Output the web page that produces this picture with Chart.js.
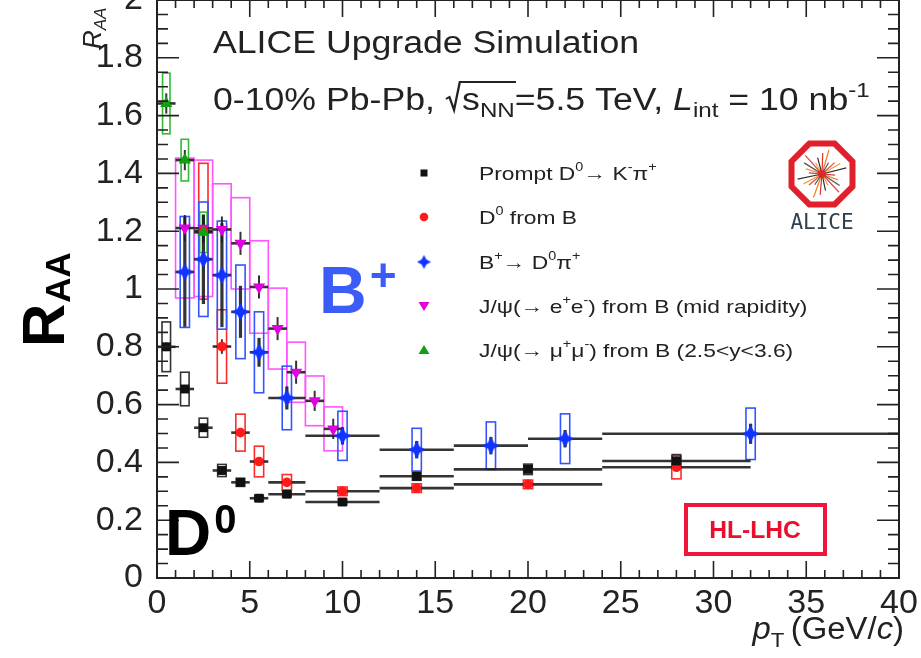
<!DOCTYPE html>
<html><head><meta charset="utf-8">
<script src="https://cdn.jsdelivr.net/npm/chart.js@4.4.0/dist/chart.umd.min.js"></script>
<style>html,body{margin:0;padding:0;background:#fff;overflow:hidden}#wrap{width:921px;height:658px;position:relative}</style>
</head><body><div id="wrap"><canvas id="c" width="921" height="658"></canvas></div>
<script>
// ---------- data ----------
const promptPt   = [0.5, 1.5, 2.5, 3.5, 4.5, 5.5, 7, 10, 14, 20, 28];
const promptLo   = [0, 1, 2, 3, 4, 5, 6, 8, 12, 16, 24];
const promptHi   = [1, 2, 3, 4, 5, 6, 8, 12, 16, 24, 32];
const promptRaa  = [0.80, 0.654, 0.52, 0.372, 0.331, 0.276, 0.29, 0.263, 0.352, 0.376, 0.405];
const promptStat = [0.015, 0.012, 0.01, 0.01, 0.01, 0.008, 0.008, 0.008, 0.01, 0.012, 0.015];
const promptSys  = [0.086, 0.058, 0.033, 0.021, 0.014, 0.01, 0.01, 0.01, 0.014, 0.018, 0.022];

const fromBPt   = [2.5, 3.5, 4.5, 5.5, 7, 10, 14, 20, 28];
const fromBLo   = [2, 3, 4, 5, 6, 8, 12, 16, 24];
const fromBHi   = [3, 4, 5, 6, 8, 12, 16, 24, 32];
const fromBRaa  = [1.20, 0.801, 0.503, 0.403, 0.331, 0.300, 0.311, 0.324, 0.383];
const fromBStat = [0.04, 0.025, 0.015, 0.012, 0.01, 0.008, 0.008, 0.008, 0.01];
const fromBSys  = [0.235, 0.127, 0.064, 0.053, 0.027, 0.015, 0.015, 0.015, 0.04];

const bplusPt   = [1.5, 2.5, 3.5, 4.5, 5.5, 7, 10, 14, 18, 22, 32];
const bplusLo   = [1, 2, 3, 4, 5, 6, 8, 12, 16, 20, 24];
const bplusHi   = [2, 3, 4, 5, 6, 8, 12, 16, 20, 24, 40];
const bplusRaa  = [1.059, 1.103, 1.048, 0.921, 0.781, 0.623, 0.492, 0.444, 0.458, 0.482, 0.499];
const bplusStat = [0.19, 0.155, 0.18, 0.09, 0.05, 0.04, 0.03, 0.03, 0.03, 0.03, 0.035];
const bplusSys  = [0.192, 0.198, 0.187, 0.162, 0.14, 0.11, 0.085, 0.074, 0.082, 0.086, 0.089];

const jpsiEePt   = [1.5, 2.5, 3.5, 4.5, 5.5, 6.5, 7.5, 8.5, 9.5];
const jpsiEeLo   = [1, 2, 3, 4, 5, 6, 7, 8, 9];
const jpsiEeHi   = [2, 3, 4, 5, 6, 7, 8, 9, 10];
const jpsiEeRaa  = [1.211, 1.21, 1.206, 1.158, 1.007, 0.863, 0.712, 0.613, 0.516];
const jpsiEeStat = [0.045, 0.045, 0.045, 0.04, 0.04, 0.04, 0.04, 0.035, 0.035];
const jpsiEeSys  = [0.242, 0.236, 0.158, 0.158, 0.16, 0.14, 0.104, 0.086, 0.076];

const jpsiMmPt   = [0.5, 1.5, 2.5];
const jpsiMmLo   = [0, 1, 2];
const jpsiMmHi   = [1, 2, 3];
const jpsiMmRaa  = [1.642, 1.446, 1.196];
const jpsiMmStat = [0.035, 0.035, 0.035];
const jpsiMmSys  = [0.105, 0.072, 0.07];

const xTickLabels = ['0','5','10','15','20','25','30','35','40'];
const yTickLabels = ['0','0.2','0.4','0.6','0.8','1','1.2','1.4','1.6','1.8','2'];

const legendLabels = [
  [['Prompt D',0],['0',1],['\u2192 K',0],['-',1],['\u03c0',0],['+',1]],
  [['D',0],['0',1],[' from B',0]],
  [['B',0],['+',1],['\u2192 D',0],['0',1],['\u03c0',0],['+',1]],
  [['J/\u03c8(\u2192 e',0],['+',1],['e',0],['-',1],[') from B (mid rapidity)',0]],
  [['J/\u03c8(\u2192 \u03bc',0],['+',1],['\u03bc',0],['-',1],[') from B (2.5<y<3.6)',0]]
];

// ---------- styles ----------
const FAM = "'Liberation Sans', Arial, sans-serif";
const S = {
  prompt: {mk:'#111111', box:'#333333', hw:0.23},
  fromB:  {mk:'#ff1a1a', box:'#ff2a2a', hw:0.25},
  bplus:  {mk:'#1133ff', box:'#3355ff', hw:0.25},
  jee:    {mk:'#e000e0', box:'#ff55ff', hw:0.5},
  jmm:    {mk:'#10a010', box:'#33bb33', hw:0.2}
};
const series = [
  {key:'bplus',  pt:bplusPt,  lo:bplusLo,  hi:bplusHi,  v:bplusRaa,  st:bplusStat,  sy:bplusSys},
  {key:'prompt', pt:promptPt, lo:promptLo, hi:promptHi, v:promptRaa, st:promptStat, sy:promptSys},
  {key:'jmm',    pt:jpsiMmPt, lo:jpsiMmLo, hi:jpsiMmHi, v:jpsiMmRaa, st:jpsiMmStat, sy:jpsiMmSys},
  {key:'fromB',  pt:fromBPt,  lo:fromBLo,  hi:fromBHi,  v:fromBRaa,  st:fromBStat,  sy:fromBSys},
  {key:'jee',    pt:jpsiEePt, lo:jpsiEeLo, hi:jpsiEeHi, v:jpsiEeRaa, st:jpsiEeStat, sy:jpsiEeSys}
];

// blue star marker
function starCanvas(size){
  const cv=document.createElement('canvas'); cv.width=size; cv.height=size;
  const g=cv.getContext('2d'); const c=size/2, r=size/2-0.5, q=size*0.16;
  g.fillStyle=S.bplus.mk; g.beginPath();
  g.moveTo(c,c-r); g.lineTo(c+q,c-q); g.lineTo(c+r,c); g.lineTo(c+q,c+q);
  g.lineTo(c,c+r); g.lineTo(c-q,c+q); g.lineTo(c-r,c); g.lineTo(c-q,c-q); g.closePath(); g.fill();
  return cv;
}
const starBig = starCanvas(19), starSmall = starCanvas(15);

const pstyle = {
  prompt:{pointStyle:'rect', radius:6.3, rotation:0},
  fromB:{pointStyle:'circle', radius:4.8, rotation:0},
  bplus:{pointStyle:starBig, radius:9, rotation:0},
  jee:{pointStyle:'triangle', radius:7, rotation:180},
  jmm:{pointStyle:'triangle', radius:7, rotation:0}
};

const datasets = series.map(s => ({
  label:s.key,
  data:s.pt.map((p,i)=>({x:p,y:s.v[i]})),
  showLine:false,
  pointStyle:pstyle[s.key].pointStyle,
  pointRadius:pstyle[s.key].radius,
  pointRotation:pstyle[s.key].rotation,
  pointBackgroundColor:S[s.key].mk,
  pointBorderColor:S[s.key].mk,
  pointBorderWidth:0
}));

// ---------- helpers ----------
function seq(ctx,x,y,parts){
  for(const p of parts){ ctx.font=p[1]; ctx.fillText(p[0],x,y+(p[2]||0)); x+=ctx.measureText(p[0]).width+(p[3]||0); }
  return x;
}
function seqWidth(ctx,parts){ let w=0; for(const p of parts){ctx.font=p[1]; w+=ctx.measureText(p[0]).width+(p[3]||0);} return w; }
function seqScaled(ctx,x,y,parts,sx){ ctx.save(); ctx.translate(x,y); ctx.scale(sx,1); const e=seq(ctx,0,0,parts); ctx.restore(); return x+e*sx; }

function legendMarker(ctx,key,x,y){
  ctx.save(); ctx.fillStyle=S[key].mk;
  if(key==='prompt'){ ctx.fillRect(x-3.5,y-3.5,7,7); }
  else if(key==='fromB'){ ctx.beginPath(); ctx.arc(x,y,4.3,0,Math.PI*2); ctx.fill(); }
  else if(key==='bplus'){ ctx.drawImage(starSmall,x-7.5,y-7.5); }
  else if(key==='jee'){ ctx.beginPath(); ctx.moveTo(x-5.5,y-4); ctx.lineTo(x+5.5,y-4); ctx.lineTo(x,y+5); ctx.closePath(); ctx.fill(); }
  else { ctx.beginPath(); ctx.moveTo(x-5.5,y+4); ctx.lineTo(x+5.5,y+4); ctx.lineTo(x,y-5); ctx.closePath(); ctx.fill(); }
  ctx.restore();
}

const errPlugin = {
  id:'err',
  beforeDatasetsDraw(chart){
    const ctx=chart.ctx, X=chart.scales.x, Y=chart.scales.y;
    const px=v=>X.getPixelForValue(v), py=v=>Y.getPixelForValue(v);
    ctx.save();
    for(const s of series.slice().reverse()){
      ctx.strokeStyle=S[s.key].box; ctx.lineWidth=1.6;
      s.pt.forEach((p,i)=>{
        const x0=px(p-S[s.key].hw), x1=px(p+S[s.key].hw), y0=py(s.v[i]+s.sy[i]), y1=py(s.v[i]-s.sy[i]);
        ctx.strokeRect(x0,y0,x1-x0,y1-y0);
      });
    }
    ctx.strokeStyle='rgba(30,30,30,0.9)';
    for(const s of series.slice().reverse()){
      s.pt.forEach((p,i)=>{
        ctx.lineWidth=2.6;
        ctx.beginPath(); ctx.moveTo(px(s.lo[i]),py(s.v[i])); ctx.lineTo(px(s.hi[i]),py(s.v[i])); ctx.stroke();
        ctx.lineWidth = s.key==='bplus'?3.2:2;
        ctx.beginPath(); ctx.moveTo(px(p),py(s.v[i]-s.st[i])); ctx.lineTo(px(p),py(s.v[i]+s.st[i])); ctx.stroke();
      });
    }
    ctx.restore();
  },
  afterDraw(chart){
    const ctx=chart.ctx, X=chart.scales.x, Y=chart.scales.y, A=chart.chartArea;
    const px=v=>X.getPixelForValue(v), py=v=>Y.getPixelForValue(v);
    ctx.save();
    // frame
    ctx.strokeStyle='#222'; ctx.lineWidth=2;
    ctx.beginPath(); ctx.moveTo(A.left,A.top); ctx.lineTo(A.right,A.top); ctx.lineTo(A.right,A.bottom); ctx.stroke();
    // inward ticks
    ctx.lineWidth=1.6;
    for(let v=0; v<=40; v++){
      const L = v%5===0?17:8, x=px(v);
      ctx.beginPath(); ctx.moveTo(x,A.bottom); ctx.lineTo(x,A.bottom-L); ctx.moveTo(x,A.top); ctx.lineTo(x,A.top+L); ctx.stroke();
    }
    for(let k=0; k<=40; k++){
      const v=k*0.05, L = k%4===0?22:11, y=py(v);
      ctx.beginPath(); ctx.moveTo(A.left,y); ctx.lineTo(A.left+L,y); ctx.moveTo(A.right,y); ctx.lineTo(A.right-L,y); ctx.stroke();
    }
    ctx.fillStyle='#222'; ctx.textBaseline='alphabetic'; ctx.textAlign='left';
    // title lines
    const F='31px '+FAM, Fs='21px '+FAM, Fi='italic 31px '+FAM;
    seqScaled(ctx,213,53,[['ALICE Upgrade Simulation',F]],1.15);
    ctx.save(); ctx.translate(213,110); ctx.scale(1.15,1);
    let x=seq(ctx,0,0,[['0-10% Pb-Pb, ',F]]);
    ctx.strokeStyle='#222'; ctx.lineWidth=2;
    const sx=x+15, sw=seqWidth(ctx,[['s',F],['NN',Fs]]);
    ctx.beginPath(); ctx.moveTo(x+1,-11); ctx.lineTo(x+4,-13); ctx.lineTo(x+8,0); ctx.lineTo(x+13,-28); ctx.lineTo(sx+sw+1,-28); ctx.stroke();
    seq(ctx,sx,0,[['s',F],['NN',Fs,7],['=5.5 TeV, ',F],['L',Fi],['int',Fs,7],[' = 10 nb',F],['-1',Fs,-13]]);
    ctx.restore();
    // legend
    const rows=[173,217,262,306,350], keys=['prompt','fromB','bplus','jee','jmm'];
    const LF='19px '+FAM, LS='12px '+FAM;
    rows.forEach((ry,i)=>{
      legendMarker(ctx,keys[i],424,ry);
      ctx.fillStyle='#222';
      seqScaled(ctx,479,ry+7,legendLabels[i].map(p=>p[1]?[p[0],LS,-9]:[p[0],LF]),1.2);
    });
    // B+
    ctx.fillStyle='#3b5cf7';
    seq(ctx,319,313,[['B','bold 66px '+FAM,0,3],['+','bold 46px '+FAM,-22]]);
    // D0
    ctx.fillStyle='#000';
    seq(ctx,165,555,[['D','bold 64px '+FAM,0,3],['0','bold 40px '+FAM,-22]]);
    // HL-LHC
    ctx.strokeStyle='#f0163a'; ctx.lineWidth=4; ctx.strokeRect(686,505,139,49);
    ctx.fillStyle='#e8102e'; ctx.font='bold 23px '+FAM; ctx.textAlign='center';
    ctx.save(); ctx.translate(755,538); ctx.scale(1.07,1); ctx.fillText('HL-LHC',0,0); ctx.restore();
    ctx.textAlign='left';
    // ALICE logo
    const cx=822, cy=174, R=33;
    const ang=[5,20,33,47,62,78,95,110,124,140,152,168,185,198,212,228,240,255,272,286,300,318,330,346];
    const cols=['#e03030','#f08020','#505050','#e04848','#f0a040','#303030'];
    ang.forEach((a,i)=>{ const t=a*Math.PI/180, l=13+(i%4)*4;
      ctx.strokeStyle=cols[i%6]; ctx.lineWidth=1.2;
      ctx.beginPath(); ctx.moveTo(cx,cy); ctx.lineTo(cx+l*Math.cos(t),cy+l*Math.sin(t)); ctx.stroke(); });
    ctx.fillStyle='#e02828'; ctx.beginPath(); ctx.arc(cx,cy,4,0,Math.PI*2); ctx.fill();
    ctx.strokeStyle='#e0202a'; ctx.lineWidth=6; ctx.beginPath();
    for(let k=0;k<8;k++){ const t=(22.5+45*k)*Math.PI/180; const X1=cx+R*Math.cos(t), Y1=cy+R*Math.sin(t); if(k===0)ctx.moveTo(X1,Y1); else ctx.lineTo(X1,Y1);} ctx.closePath(); ctx.stroke();
    ctx.fillStyle='#2f4050'; ctx.font="21px 'DejaVu Sans Mono', monospace"; ctx.textAlign='center'; ctx.fillText('ALICE',822,229);
    ctx.textAlign='left';
    // big R_AA y title
    ctx.fillStyle='#000';
    ctx.save(); ctx.translate(64,347); ctx.rotate(-Math.PI/2);
    seq(ctx,0,0,[['R','bold 60px '+FAM,0,1],['AA','bold 35px '+FAM,6]]);
    ctx.restore();
    // small R_AA axis title at top
    ctx.fillStyle='#222';
    ctx.save(); ctx.translate(101,49); ctx.rotate(-Math.PI/2);
    seq(ctx,0,0,[['R','italic 26px '+FAM],['AA','italic 17px '+FAM,5]]);
    ctx.restore();
    // x title
    const xt=[['p','italic 31px '+FAM],['T','21px '+FAM,8,6],['(GeV/','31px '+FAM],['c','italic 31px '+FAM],[')','31px '+FAM]];
    ctx.fillStyle='#222';
    const xw=seqWidth(ctx,xt)*1.06;
    seqScaled(ctx,904-xw,639,xt,1.06);
    ctx.restore();
  }
};

new Chart(document.getElementById('c'),{
  type:'scatter',
  data:{datasets},
  options:{
    responsive:false, animation:false, devicePixelRatio:1,
    layout:{padding:{top:-4,right:22,left:0,bottom:0}, autoPadding:false},
    plugins:{legend:{display:false}, tooltip:{enabled:false}},
    elements:{point:{hoverRadius:0}},
    scales:{
      x:{type:'linear', min:0, max:40, position:'bottom',
        ticks:{stepSize:5, autoSkip:false, maxRotation:0, padding:5, color:'#222', font:{family:FAM,size:34},
          callback:(v)=>xTickLabels[Math.round(v/5)] ?? ''},
        grid:{display:false, drawTicks:false}, border:{display:true,color:'#222',width:2},
        afterFit:(s)=>{s.height=80; s.paddingLeft=0; s.paddingRight=0;}},
      y:{type:'linear', min:0, max:2, position:'left',
        ticks:{stepSize:0.2, autoSkip:false, padding:14, color:'#222', font:{family:FAM,size:34},
          callback:(v)=>yTickLabels[Math.round(v*5)] ?? ''},
        grid:{display:false, drawTicks:false}, border:{display:true,color:'#222',width:2},
        afterFit:(s)=>{s.width=157; s.paddingTop=0; s.paddingBottom=0;}}
    }
  },
  plugins:[errPlugin]
});
</script></body></html>
